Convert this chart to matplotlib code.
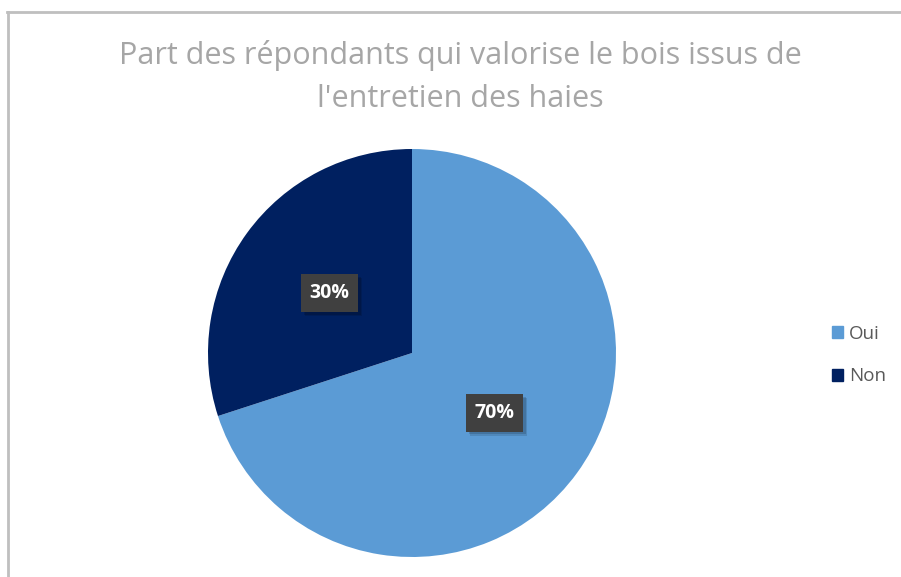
import matplotlib
matplotlib.use("Agg")
import matplotlib.pyplot as plt
import matplotlib.patheffects as pe
from matplotlib.patches import Rectangle
from matplotlib.lines import Line2D

categories = ["Oui", "Non"]
values = [70, 30]
colors = ["#5B9BD5", "#002060"]
title = "Part des répondants qui valorise le bois issus de\nl'entretien des haies"

plt.rcParams['font.family'] = ['Open Sans', 'DejaVu Sans']

W, H = 901, 577
fig = plt.figure(figsize=(W/100, H/100), dpi=100)
fig.patch.set_facecolor("white")

# border (left and top)
fig.add_artist(Line2D([7.5/W, 7.5/W], [0, 1 - 12/H], transform=fig.transFigure, color="#BFBFBF", lw=2))
fig.add_artist(Line2D([7/W, 1], [1 - 12/H, 1 - 12/H], transform=fig.transFigure, color="#BFBFBF", lw=2))

cx, cy, r = 412, 353, 204
ax = fig.add_axes([(cx - r)/W, 1 - (cy + r)/H, 2*r/W, 2*r/H])
wedges, texts, autotexts = ax.pie(values, colors=colors, startangle=90, counterclock=False,
                                  autopct=lambda p: f"{p:.0f}%", pctdistance=0.5,
                                  radius=1.0, wedgeprops=dict(linewidth=0))
ax.set_xlim(-1, 1)
ax.set_ylim(-1, 1)
ax.set_aspect("equal")
for t in autotexts:
    t.set_color("white")
    t.set_fontsize(14)
    t.set_fontweight("bold")
    t.set_bbox(dict(boxstyle="square,pad=0.45", facecolor="#404040", edgecolor="none"))
    t.get_bbox_patch().set_path_effects([
        pe.SimplePatchShadow(offset=(3, -3), shadow_rgbFace="#000000", alpha=0.12),
        pe.SimplePatchShadow(offset=(2, -2), shadow_rgbFace="#000000", alpha=0.15),
        pe.Normal()])

fig.text(460/W, 1 - 77/H, title, ha="center", va="center", fontsize=22, color="#A6A6A6",
         linespacing=1.6)

leg = fig.legend(handles=[Rectangle((0, 0), 1, 1, color=c) for c in colors], labels=categories,
                 loc="center left", bbox_to_anchor=(815/W, 1 - 355/H), frameon=False,
                 fontsize=13.5, handlelength=0.6, handleheight=0.6, handletextpad=0.3,
                 labelspacing=1.3, labelcolor="#595959")

fig.savefig("out.png", dpi=100, facecolor="white")
